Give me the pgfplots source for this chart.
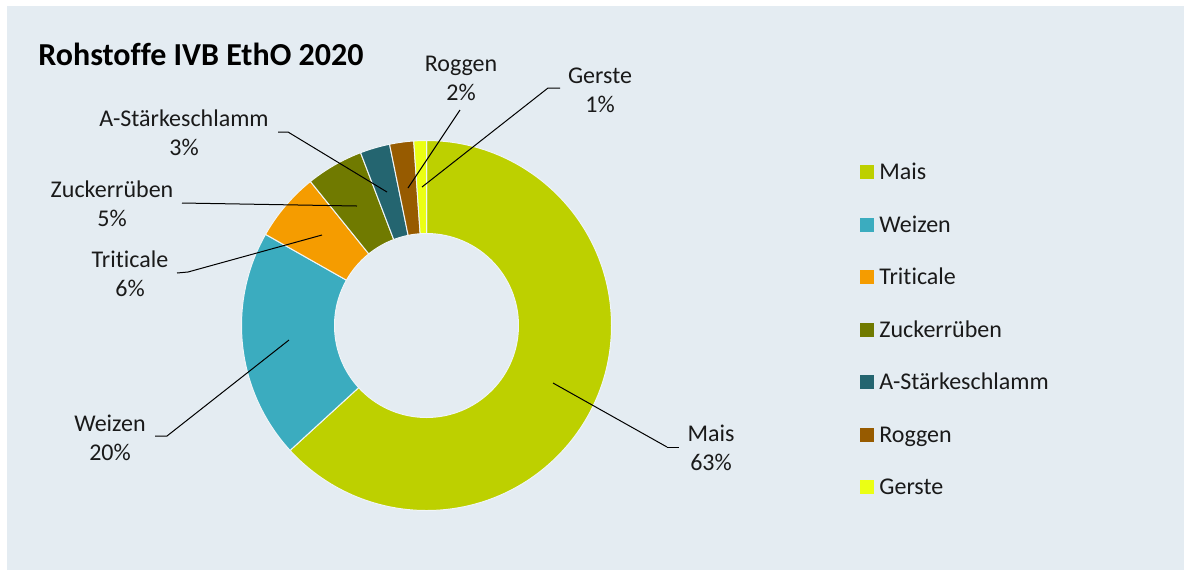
\documentclass[border=0pt]{standalone}
\usepackage{pgfplots}
\pgfplotsset{compat=1.18}
\usepackage{pgfplotstable}
\usepackage{fontspec}
\setmainfont{Carlito}[Ligatures=NoCommon]

\definecolor{bgc}{HTML}{E4ECF2}
\definecolor{cMais}{HTML}{BDD000}
\definecolor{cWeizen}{HTML}{3BACBF}
\definecolor{cTriticale}{HTML}{F59C00}
\definecolor{cZucker}{HTML}{707A00}
\definecolor{cStaerke}{HTML}{246570}
\definecolor{cRoggen}{HTML}{975B00}
\definecolor{cGerste}{HTML}{EBFF14}
\definecolor{txt}{HTML}{1A1A1A}

% share in percent, clockwise from 12 o'clock
\pgfplotstableread{
name value col
Mais 63.2 cMais
Weizen 20.0 cWeizen
Triticale 6.0 cTriticale
Zuckerrüben 5.0 cZucker
A-Stärkeschlamm 2.6 cStaerke
Roggen 2.1 cRoggen
Gerste 1.1 cGerste
}\rohstoffe

\newcommand\lbl[5]{%
  \node[anchor=base, inner sep=0pt, text=txt, font=\fontsize{12pt}{14.5pt}\selectfont] at (axis cs:#1,#2) {#4};
  \node[anchor=base, inner sep=0pt, text=txt, font=\fontsize{12pt}{14.5pt}\selectfont] at (axis cs:#1,#3) {#5};}

\begin{document}
\begin{tikzpicture}
\begin{axis}[
    width=592pt, height=285pt, scale only axis,
    xmin=0, xmax=1184, ymin=0, ymax=570, y dir=reverse,
    axis lines=none, clip=false,
]
\fill[white] (axis cs:0,0) rectangle (axis cs:1184,570);
\fill[bgc] (axis cs:7,6) rectangle (axis cs:1184,570);

\node[anchor=base west, inner sep=0pt, text=black, font=\bfseries\fontsize{16pt}{19pt}\selectfont]
    at (axis cs:38,65) {Rohstoffe IVB EthO 2020};

% donut + legend from the table
\def\cum{0}
\pgfplotsforeachungrouped \i in {0,...,6}{%
  \pgfplotstablegetelem{\i}{value}\of\rohstoffe \let\val\pgfplotsretval
  \pgfplotstablegetelem{\i}{col}\of\rohstoffe \let\col\pgfplotsretval
  \pgfplotstablegetelem{\i}{name}\of\rohstoffe \let\nm\pgfplotsretval
  \pgfmathsetmacro\a{90-3.6*\cum}
  \pgfmathsetmacro\b{90-3.6*(\cum+\val)}
  \pgfmathsetmacro\ly{172+52.5*\i}
  \pgfmathsetmacro\lb{\ly+7.7}
  \edef\donutpart{%
    \noexpand\fill[\col, draw=white!45!bgc, line width=0.5pt]
      (axis cs:426.5,325.5) ++(\a:92.5pt) arc[start angle=\a, end angle=\b, radius=92.5pt]
      -- ++(\b:-46.5pt) arc[start angle=\b, end angle=\a, radius=46pt] -- cycle;
    \noexpand\fill[\col] (axis cs:860,\ly) ++(0pt,-3.5pt) rectangle ++(7pt,7pt);
    \noexpand\node[anchor=base west, inner sep=0pt, text=txt, font=\noexpand\fontsize{12pt}{14.5pt}\noexpand\selectfont]
      at (axis cs:879,\lb) {\nm};}
  \donutpart
  \pgfmathsetmacro\cum{\cum+\val}
}

% leader lines
\draw[black, line width=0.5pt] (axis cs:667,447) -- (axis cs:679,447);
\draw[black, line width=0.5pt] (axis cs:553,383) -- (axis cs:667,447);
\draw[black, line width=0.5pt] (axis cs:155,436) -- (axis cs:167,436) -- (axis cs:289,340);
\draw[black, line width=0.5pt] (axis cs:177,273) -- (axis cs:188,272) -- (axis cs:322,235);
\draw[black, line width=0.5pt] (axis cs:182,203) -- (axis cs:357,206);
\draw[black, line width=0.5pt] (axis cs:278,132) -- (axis cs:288,132) -- (axis cs:387,192);
\draw[black, line width=0.5pt] (axis cs:460,110) -- (axis cs:408,188);
\draw[black, line width=0.5pt] (axis cs:560,88) -- (axis cs:548,88) -- (axis cs:422,187);

% data labels
\lbl{711}{441}{470}{Mais}{63\%}
\lbl{110}{431}{460}{Weizen}{20\%}
\lbl{130}{267}{296}{Triticale}{6\%}
\lbl{112}{197}{226}{Zuckerrüben}{5\%}
\lbl{184}{126}{155}{A-Stärkeschlamm}{3\%}
\lbl{461}{71}{100}{Roggen}{2\%}
\lbl{600}{83}{112}{Gerste}{1\%}
\end{axis}
\end{tikzpicture}
\end{document}
